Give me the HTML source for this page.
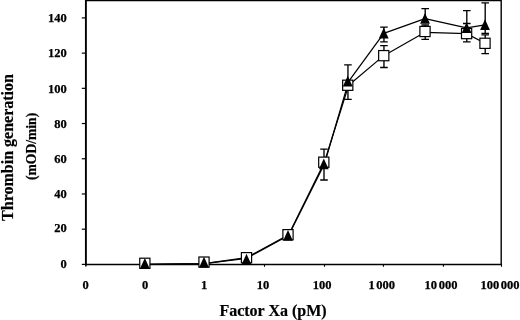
<!DOCTYPE html>
<html><head><meta charset="utf-8"><style>
html,body{margin:0;padding:0;background:#fff;width:520px;height:320px;overflow:hidden}
svg{display:block;will-change:transform}
.t{font-family:"Liberation Serif",serif;font-weight:bold;font-size:12.5px;fill:#000;stroke:#000;stroke-width:0.25px;word-spacing:-1.5px}
.ti{font-family:"Liberation Serif",serif;font-weight:bold;font-size:16px;fill:#000;stroke:#000;stroke-width:0.2px}
.t2{font-family:"Liberation Serif",serif;font-weight:bold;font-size:13.6px;fill:#000;stroke:#000;stroke-width:0.2px}
</style></head><body>
<svg width="520" height="320" viewBox="0 0 520 320">
<rect width="520" height="320" fill="#fff"/>
<path d="M86 0.5 H501.2 V264.4" fill="none" stroke="#000" stroke-width="1.4"/>
<path d="M85.9 0 V265.6" stroke="#000" stroke-width="1.9"/>
<path d="M85 264.4 H502" stroke="#000" stroke-width="1.5"/>
<path d="M81.8 264.40 H86" stroke="#000" stroke-width="1.2"/>
<path d="M81.8 229.19 H86" stroke="#000" stroke-width="1.2"/>
<path d="M81.8 193.97 H86" stroke="#000" stroke-width="1.2"/>
<path d="M81.8 158.76 H86" stroke="#000" stroke-width="1.2"/>
<path d="M81.8 123.54 H86" stroke="#000" stroke-width="1.2"/>
<path d="M81.8 88.33 H86" stroke="#000" stroke-width="1.2"/>
<path d="M81.8 53.12 H86" stroke="#000" stroke-width="1.2"/>
<path d="M81.8 17.90 H86" stroke="#000" stroke-width="1.2"/>
<path d="M85.90 264 V266.8" stroke="#000" stroke-width="1.1"/>
<path d="M145.00 264 V266.8" stroke="#000" stroke-width="1.1"/>
<path d="M204.50 264 V266.8" stroke="#000" stroke-width="1.1"/>
<path d="M264.50 264 V266.8" stroke="#000" stroke-width="1.1"/>
<path d="M324.50 264 V266.8" stroke="#000" stroke-width="1.1"/>
<path d="M383.40 264 V266.8" stroke="#000" stroke-width="1.1"/>
<path d="M443.40 264 V266.8" stroke="#000" stroke-width="1.1"/>
<path d="M501.50 264 V266.8" stroke="#000" stroke-width="1.1"/>
<path d="M324.00 149.10 V180.00 M320.20 149.10 H327.80 M320.20 180.00 H327.80" stroke="#000" stroke-width="1.35" fill="none"/>
<path d="M347.95 64.90 V99.40 M344.15 64.90 H351.75 M344.15 99.40 H351.75" stroke="#000" stroke-width="1.35" fill="none"/>
<path d="M383.95 27.10 V41.90 M380.15 27.10 H387.75 M380.15 41.90 H387.75" stroke="#000" stroke-width="1.35" fill="none"/>
<path d="M383.95 45.60 V67.50 M380.15 45.60 H387.75 M380.15 67.50 H387.75" stroke="#000" stroke-width="1.35" fill="none"/>
<path d="M425.20 8.60 V22.00 M421.40 8.60 H429.00 M421.40 22.00 H429.00" stroke="#000" stroke-width="1.35" fill="none"/>
<path d="M425.20 25.00 V39.30 M421.40 25.00 H429.00 M421.40 39.30 H429.00" stroke="#000" stroke-width="1.35" fill="none"/>
<path d="M466.80 10.60 V23.50 M463.00 10.60 H470.60 M463.00 23.50 H470.60" stroke="#000" stroke-width="1.35" fill="none"/>
<path d="M466.80 29.00 V41.90 M463.00 29.00 H470.60 M463.00 41.90 H470.60" stroke="#000" stroke-width="1.35" fill="none"/>
<path d="M485.20 2.80 V33.40 M481.40 2.80 H489.00 M481.40 33.40 H489.00" stroke="#000" stroke-width="1.35" fill="none"/>
<path d="M485.20 34.90 V53.60 M481.40 34.90 H489.00 M481.40 53.60 H489.00" stroke="#000" stroke-width="1.35" fill="none"/>
<polyline points="144.85,264.30 204.00,263.60 246.50,257.70 288.60,234.70 324.40,162.20 348.65,85.25 383.75,55.65 425.00,32.30 466.60,33.60 485.00,43.30" fill="none" stroke="#000" stroke-width="1.2" stroke-linejoin="round"/>
<polyline points="144.85,264.30 204.00,263.60 246.50,258.30 288.60,235.50 324.40,164.00 348.65,81.40 383.75,33.30 425.00,18.60 466.60,27.90 485.00,24.90" fill="none" stroke="#000" stroke-width="1.25" stroke-linejoin="round"/>
<rect x="139.75" y="258.20" width="10.2" height="10.2" fill="#fff" stroke="#000" stroke-width="1.2"/>
<rect x="198.90" y="257.00" width="10.2" height="10.2" fill="#fff" stroke="#000" stroke-width="1.2"/>
<rect x="241.40" y="252.60" width="10.2" height="10.2" fill="#fff" stroke="#000" stroke-width="1.2"/>
<rect x="282.90" y="229.60" width="10.2" height="10.2" fill="#fff" stroke="#000" stroke-width="1.2"/>
<rect x="318.70" y="157.10" width="10.2" height="10.2" fill="#fff" stroke="#000" stroke-width="1.2"/>
<rect x="342.65" y="80.15" width="10.2" height="10.2" fill="#fff" stroke="#000" stroke-width="1.2"/>
<rect x="378.65" y="50.55" width="10.2" height="10.2" fill="#fff" stroke="#000" stroke-width="1.2"/>
<rect x="419.90" y="26.40" width="10.2" height="10.2" fill="#fff" stroke="#000" stroke-width="1.2"/>
<rect x="461.50" y="28.50" width="10.2" height="10.2" fill="#fff" stroke="#000" stroke-width="1.2"/>
<rect x="479.90" y="38.20" width="10.2" height="10.2" fill="#fff" stroke="#000" stroke-width="1.2"/>
<path d="M144.85 257.90 L149.75 268.70 L139.95 268.70 Z" fill="#000"/>
<path d="M204.00 256.70 L208.90 267.50 L199.10 267.50 Z" fill="#000"/>
<path d="M246.50 253.80 L251.40 264.60 L241.60 264.60 Z" fill="#000"/>
<path d="M288.00 229.90 L292.90 240.70 L283.10 240.70 Z" fill="#000"/>
<path d="M323.80 158.40 L328.70 169.20 L318.90 169.20 Z" fill="#000"/>
<path d="M347.75 75.80 L352.65 86.60 L342.85 86.60 Z" fill="#000"/>
<path d="M383.75 27.70 L388.65 38.50 L378.85 38.50 Z" fill="#000"/>
<path d="M425.00 13.00 L429.90 23.80 L420.10 23.80 Z" fill="#000"/>
<path d="M466.60 22.30 L471.50 33.10 L461.70 33.10 Z" fill="#000"/>
<path d="M485.00 19.30 L489.90 30.10 L480.10 30.10 Z" fill="#000"/>
<text x="66.8" y="268.00" text-anchor="end" class="t">0</text>
<text x="66.8" y="232.29" text-anchor="end" class="t">20</text>
<text x="66.8" y="198.27" text-anchor="end" class="t">40</text>
<text x="66.8" y="163.36" text-anchor="end" class="t">60</text>
<text x="66.8" y="127.84" text-anchor="end" class="t">80</text>
<text x="66.8" y="92.53" text-anchor="end" class="t">100</text>
<text x="66.8" y="57.12" text-anchor="end" class="t">120</text>
<text x="66.8" y="22.00" text-anchor="end" class="t">140</text>
<text x="85.50" y="289.2" text-anchor="middle" class="t">0</text>
<text x="145.00" y="289.2" text-anchor="middle" class="t">0</text>
<text x="204.20" y="289.2" text-anchor="middle" class="t">1</text>
<text x="262.90" y="289.2" text-anchor="middle" class="t">10</text>
<text x="322.00" y="289.2" text-anchor="middle" class="t">100</text>
<text x="381.70" y="289.2" text-anchor="middle" class="t">1 000</text>
<text x="441.00" y="289.2" text-anchor="middle" class="t">10 000</text>
<text x="500.00" y="289.2" text-anchor="middle" class="t">100 000</text>
<text x="273" y="316.1" text-anchor="middle" class="ti">Factor Xa (pM)</text>
<text transform="translate(12.6,147.5) rotate(-90)" text-anchor="middle" class="ti">Thrombin generation</text>
<text transform="translate(36,146.4) rotate(-90)" text-anchor="middle" class="t2">(mOD/min)</text>
</svg>
</body></html>
